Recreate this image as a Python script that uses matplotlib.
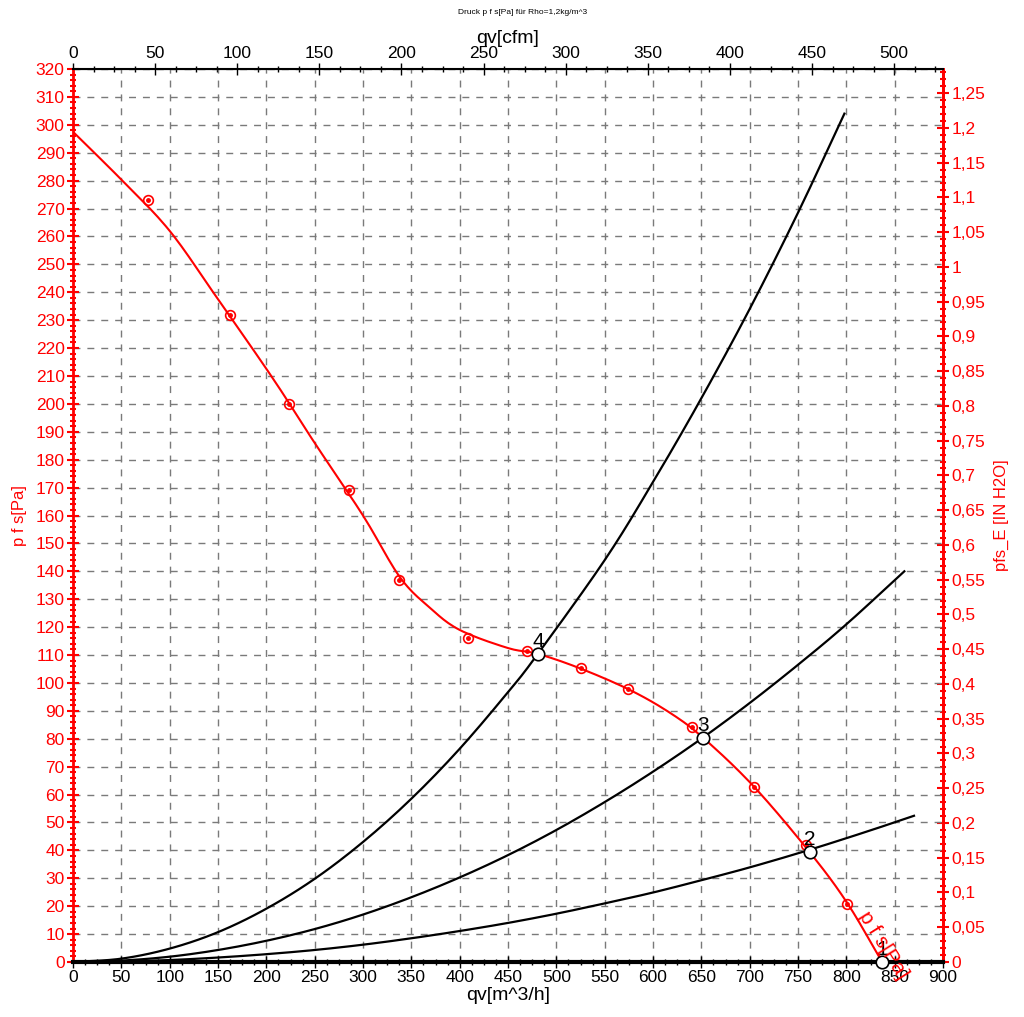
import matplotlib
matplotlib.use('Agg')
import matplotlib.pyplot as plt
import numpy as np
from matplotlib import font_manager
from matplotlib.ticker import MultipleLocator, FixedLocator, FuncFormatter

# pick a narrow font if there is one
names = {f.name for f in font_manager.fontManager.ttflist}
narrow = 'Liberation Sans Narrow' if 'Liberation Sans Narrow' in names else 'Liberation Sans'
plt.rcParams['font.family'] = ['Liberation Sans', 'DejaVu Sans']

# fan curve p f s [Pa] over qv [m^3/h]
fan_x = [0, 51, 100, 149, 207, 250, 300, 338, 369, 400, 450, 481, 524, 576, 618,
         652, 704, 762, 801, 837]
fan_y = [297.5, 280, 262, 238, 209, 186, 160, 138, 127, 119, 112.5, 110.4, 105.3,
         97.5, 89.2, 80.3, 63, 39.4, 21.1, 0]

# measured points
meas_x = [78, 162, 223, 285, 337, 409, 470, 525, 574, 640, 704, 758, 801]
meas_y = [273, 232, 200, 169, 137, 116, 111.5, 105.4, 97.8, 84.2, 62.7, 42, 20.8]

# system curves
sys4_x = [0, 50, 100, 150, 200, 250, 300, 350, 400, 450, 480, 550, 600, 650, 700, 750, 798]
sys4_y = [0, 1.2, 4.8, 10.7, 19.1, 29.8, 43, 58.5, 76.4, 96.7, 110, 144, 172, 202, 234, 268.5, 304]
sys3_x = [0, 50, 100, 150, 200, 250, 300, 350, 400, 450, 500, 550, 600, 650, 700, 750, 800, 860]
sys3_y = [0, 0.5, 1.9, 4.3, 7.6, 11.8, 17, 23.2, 30.3, 38.3, 47.3, 57.3, 68.2, 80, 92.8, 106.5, 121, 140]
sys2_x = [0, 50, 100, 150, 200, 250, 300, 350, 400, 450, 500, 550, 600, 650, 700, 760, 820, 870]
sys2_y = [0, 0.2, 0.7, 1.6, 2.8, 4.3, 6.2, 8.5, 11.1, 14, 17.3, 21, 24.9, 29.3, 33.9, 40, 46.6, 52.4]
sys1_x = [0, 900]
sys1_y = [0, 0]

# operating points
op_x = [837, 762, 652, 481]
op_y = [0, 39.4, 80.3, 110.4]
op_labels = ['1', '2', '3', '4']

cfm_ticks = list(range(0, 501, 50))
inh2o_ticks = [i * 0.05 for i in range(26)]


def smooth(xs, ys, n=12):
    # Catmull-Rom through the read points, only for drawing
    p = np.column_stack([xs, ys]).astype(float)
    p = np.vstack([2 * p[0] - p[1], p, 2 * p[-1] - p[-2]])
    out = []
    t = np.linspace(0, 1, n, endpoint=False)[:, None]
    for i in range(1, len(p) - 2):
        p0, p1, p2, p3 = p[i - 1], p[i], p[i + 1], p[i + 2]
        out.append(0.5 * (2 * p1 + (-p0 + p2) * t + (2 * p0 - 5 * p1 + 4 * p2 - p3) * t ** 2
                          + (-p0 + 3 * p1 - 3 * p2 + p3) * t ** 3))
    out.append(p[-2][None, :])
    out = np.vstack(out)
    return out[:, 0], out[:, 1]


fig = plt.figure(figsize=(10.24, 10.17), dpi=100)
ax = fig.add_axes([73/1024, 55/1017, 870/1024, 893/1017])

for sx, sy in [(sys4_x, sys4_y), (sys3_x, sys3_y), (sys2_x, sys2_y)]:
    ax.plot(*smooth(sx, sy), color='black', lw=1.6, zorder=3)
ax.plot(sys1_x, sys1_y, color='black', lw=3, zorder=3, clip_on=False)

ax.plot(*smooth(fan_x, fan_y), color='red', lw=1.5, zorder=4)
ax.plot(meas_x, meas_y, ls='none', marker='o', ms=7, mfc='none', mec='red', mew=1.2, zorder=5)
ax.plot(meas_x, meas_y, ls='none', marker='o', ms=2.5, color='red', zorder=5)

ax.plot(op_x, op_y, ls='none', marker='o', ms=9, mfc='white', mec='black', mew=1.2,
        zorder=6, clip_on=False)
for x, y, t in zip(op_x, op_y, op_labels):
    ax.annotate(t, (x, y), xytext=(0, 2), textcoords='offset points', ha='center',
                va='bottom', fontsize=15, color='black', zorder=7)

ax.text(838, 6, 'p f s[Pa]', color='red', fontsize=15, rotation=-58,
        ha='center', va='center', rotation_mode='anchor', clip_on=False, zorder=7)

ax.set_xlim(0, 900)
ax.set_ylim(0, 320)
ax.xaxis.set_major_locator(MultipleLocator(50))
ax.xaxis.set_minor_locator(MultipleLocator(12.5))
ax.yaxis.set_major_locator(MultipleLocator(10))
ax.yaxis.set_minor_locator(MultipleLocator(2))
ax.grid(which='major', color='#7a7a7a', ls=(0, (5, 5)), lw=1)

ax.tick_params(axis='x', which='major', direction='inout', length=8, width=1,
               labelsize=12.5, pad=2)
ax.tick_params(axis='x', which='minor', direction='inout', length=5, width=1)
ax.tick_params(axis='y', which='major', direction='inout', length=8, width=1.5,
               colors='red', labelsize=12.5, pad=2)
ax.tick_params(axis='y', which='minor', direction='inout', length=5, width=1.5, colors='red')
for lab in ax.get_xticklabels():
    lab.set_fontfamily(narrow)
ax.spines['left'].set_color('red')
ax.spines['left'].set_linewidth(2)
ax.spines['right'].set_color('red')
ax.spines['right'].set_linewidth(2)
ax.spines['top'].set_linewidth(1.5)
ax.spines['bottom'].set_linewidth(1.5)

ax.set_xlabel('qv[m^3/h]', fontsize=14, fontfamily=narrow, labelpad=1)
ax.set_ylabel('p f s[Pa]', fontsize=12, color='red', labelpad=6)

# top axis: cfm
top = ax.secondary_xaxis('top', functions=(lambda v: v / 1.699, lambda v: v * 1.699))
top.xaxis.set_major_locator(FixedLocator(cfm_ticks))
top.xaxis.set_minor_locator(FixedLocator([v * 12.5 for v in range(43)]))
top.tick_params(which='major', direction='inout', length=8, width=1, labelsize=12.5, pad=2)
top.tick_params(which='minor', direction='inout', length=5, width=1)
for lab in top.get_xticklabels():
    lab.set_fontfamily(narrow)
top.set_xlabel('qv[cfm]', fontsize=14, fontfamily=narrow, labelpad=2)

# right axis: IN H2O
right = ax.secondary_yaxis('right', functions=(lambda v: v / 249.09, lambda v: v * 249.09))
right.yaxis.set_major_locator(FixedLocator(inh2o_ticks))
right.yaxis.set_minor_locator(FixedLocator([v * 0.01 for v in range(129)]))
right.yaxis.set_major_formatter(FuncFormatter(lambda v, p: ('%g' % round(v, 2)).replace('.', ',')))
right.tick_params(which='major', direction='inout', length=8, width=1.5, colors='red',
                  labelsize=12.5, pad=2)
right.tick_params(which='minor', direction='inout', length=5, width=1.5, colors='red')
right.spines['right'].set_color('red')
right.spines['right'].set_linewidth(2)
right.set_ylabel('pfs_E [IN H2O]', fontsize=12, color='red', labelpad=6)

fig.text(0.51, 1 - 13/1017, 'Druck p f s[Pa] für Rho=1,2kg/m^3', fontsize=6,
         ha='center', va='center')

fig.savefig('out.png', dpi=100)
